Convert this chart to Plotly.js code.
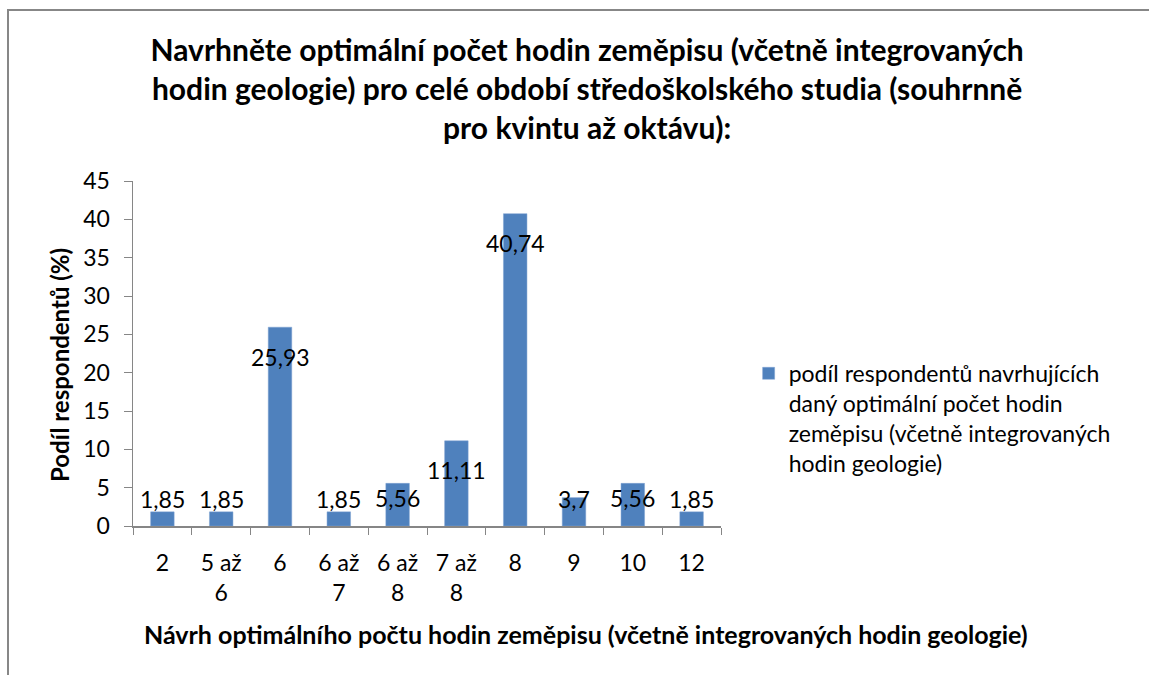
<!DOCTYPE html>
<html>
<head>
<meta charset="utf-8">
<script src="https://cdn.plot.ly/plotly-3.0.1.min.js"></script>
<style>
  html, body { margin: 0; padding: 0; background: #fff; }
  #wrap { position: relative; width: 1149px; height: 675px; overflow: hidden; }
  #chart { width: 1149px; height: 675px; }
  #frame { position: absolute; left: 7px; top: 9px; width: 1200px; height: 720px;
           border: 2px solid #878787; pointer-events: none; box-sizing: border-box; }
</style>
</head>
<body>
<div id="wrap">
  <div id="chart"></div>
  <div id="frame"></div>
</div>
<script>
// ---- data ----
const categories = ['2', '5 až<br>6', '6', '6 až<br>7', '6 až<br>8', '7 až<br>8', '8', '9', '10', '12'];
const shares = [1.85, 1.85, 25.93, 1.85, 5.56, 11.11, 40.74, 3.7, 5.56, 1.85];
const seriesName = 'podíl respondentů navrhujících<br>daný optimální počet hodin<br>zeměpisu (včetně integrovaných<br>hodin geologie)';
const chartTitle = 'Navrhněte optimální počet hodin zeměpisu (včetně integrovaných<br>hodin geologie) pro celé období středoškolského studia (souhrnně<br>pro kvintu až oktávu):';
const xTitle = 'Návrh optimálního počtu hodin zeměpisu (včetně integrovaných hodin geologie)';
const yTitle = 'Podíl respondentů (%)';

// data-label vertical offsets in px (style: where each label sits relative to its bar top)
const labelShift = [13, 13, -30, 13, -15, -29, -29, -1, -15, 13];

const FONT = 'Lato, "Open Sans", sans-serif';
const labels = shares.map(v => String(v).replace('.', ','));

const barTrace = {
  type: 'bar',
  x: categories,
  y: shares,
  name: seriesName,
  marker: { color: '#4F81BD', line: { color: '#7FA3D2', width: 0.5 } },
  width: 0.4,
  hoverinfo: 'x+y'
};

// category axes accept the category index as position
const labelAnnotations = categories.map((c, i) => ({
  x: i, y: shares[i], xref: 'x', yref: 'y',
  text: labels[i], showarrow: false,
  xanchor: 'center', yanchor: 'middle',
  yshift: labelShift[i],
  font: { family: FONT, size: 23, color: '#000' }
}));

const titleAnnotations = [
  {
    text: xTitle, showarrow: false,
    xref: 'paper', yref: 'paper', x: 0.770, y: -0.313,
    xanchor: 'center', yanchor: 'middle',
    font: { family: FONT, size: 25, color: '#000', weight: 'bold' }
  },
  {
    text: yTitle, showarrow: false, textangle: -90,
    xref: 'paper', yref: 'paper', x: -0.124, y: 0.467,
    xanchor: 'center', yanchor: 'middle',
    font: { family: FONT, size: 24, color: '#000', weight: 'bold' }
  }
];

const layout = {
  width: 1149,
  height: 675,
  paper_bgcolor: 'rgba(0,0,0,0)',
  plot_bgcolor: 'rgba(0,0,0,0)',
  margin: { l: 133, r: 428, t: 181, b: 149 },
  font: { family: FONT, size: 23, color: '#000' },
  title: {
    text: chartTitle,
    font: { family: FONT, size: 30, color: '#000', weight: 'bold' },
    x: 0.511, xref: 'container', xanchor: 'center',
    y: 0.91, yref: 'container', yanchor: 'top'
  },
  xaxis: {
    type: 'category',
    categoryorder: 'array',
    categoryarray: categories,
    range: [-0.5, 9.5],
    tickson: 'boundaries',
    ticks: 'outside',
    ticklen: 7,
    tickcolor: '#868686',
    tickangle: 0,
    showline: true,
    linecolor: '#868686',
    linewidth: 1.5,
    showgrid: false,
    zeroline: false,
    tickfont: { family: FONT, size: 23, color: '#000' },
    ticklabelstandoff: 16,
    fixedrange: true
  },
  yaxis: {
    range: [0, 45],
    dtick: 5,
    tick0: 0,
    ticks: 'outside',
    ticklen: 8,
    tickcolor: '#868686',
    showline: true,
    linecolor: '#868686',
    linewidth: 1.5,
    showgrid: false,
    zeroline: false,
    tickfont: { family: FONT, size: 23, color: '#000' },
    ticklabelstandoff: 9,
    fixedrange: true
  },
  annotations: labelAnnotations.concat(titleAnnotations),
  showlegend: true,
  legend: {
    x: 1.047, xanchor: 'left',
    y: 0.312, yanchor: 'middle',
    font: { family: FONT, size: 23, color: '#000' },
    valign: 'top',
    bgcolor: 'rgba(0,0,0,0)',
    itemwidth: 30
  },
  bargap: 0.6
};

Plotly.newPlot('chart', [barTrace], layout, { displayModeBar: false, staticPlot: true });
</script>
</body>
</html>
